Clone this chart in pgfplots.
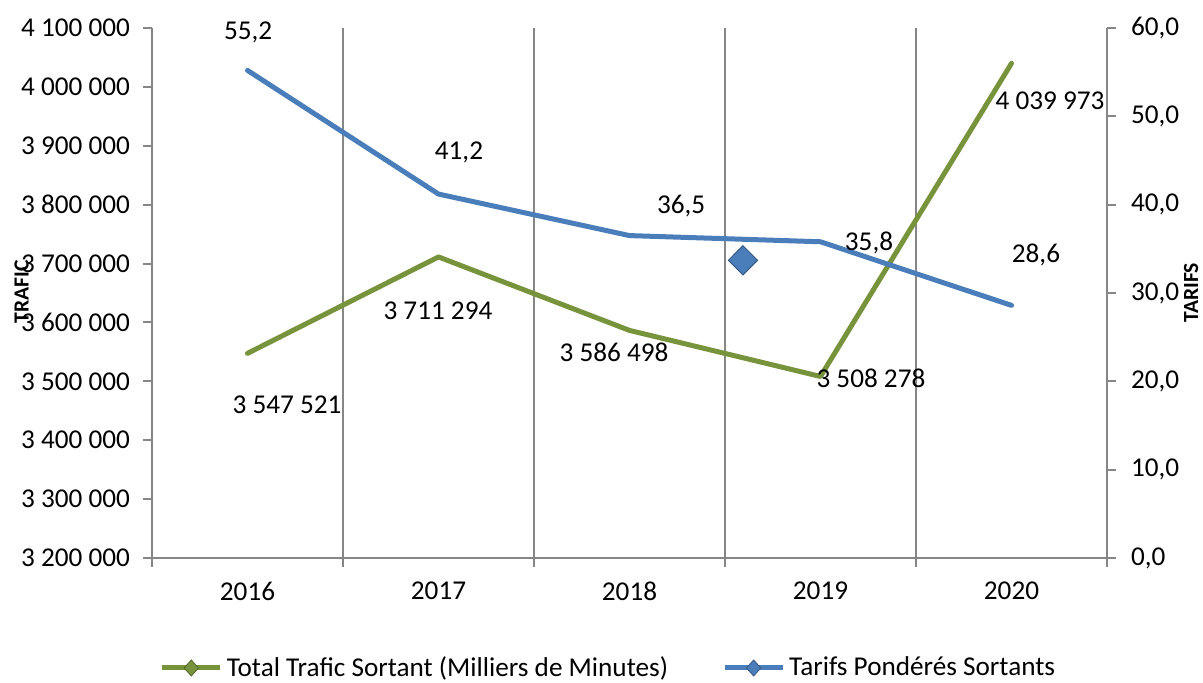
\documentclass[border=0pt]{standalone}
\usepackage{fontspec}
\setmainfont{Carlito}
\usepackage{pgfplots}
\pgfplotsset{compat=1.18}
\definecolor{trafic}{HTML}{77933C}
\definecolor{tarif}{HTML}{4A7EBB}
\definecolor{axisgray}{HTML}{868686}
\tikzset{lbl/.style={font=\fontsize{13.6}{16}\selectfont, inner sep=0pt}}

\begin{document}
\begin{tikzpicture}
\path[use as bounding box] (0,0) rectangle (601.5pt,341pt);
\pgfplotsset{
  common/.style={
    scale only axis, width=477.5pt, height=265pt,
    at={(76pt,62pt)}, anchor=south west,
    xmin=-0.5, xmax=4.5, clip=false,
    tick align=outside,
    major tick length=4.5pt,
    minor tick length=4.5pt,
    axis line style={axisgray, line width=1pt},
    every tick/.style={axisgray, line width=1pt},
    tick label style={font=\fontsize{13.6}{16}\selectfont, black},
    every axis y label/.style={rotate=90, anchor=center,
      font=\fontsize{10.8}{12}\selectfont\bfseries},
  }
}
\begin{axis}[common,
  axis x line*=bottom, axis y line*=left,
  ymin=3200000, ymax=4100000, ytick distance=100000,
  scaled y ticks=false,
  yticklabel style={xshift=-3pt, /pgf/number format/.cd, fixed, 1000 sep={\ }, assume math mode=true},
  xtick={0,...,4}, xticklabels={2016,2017,2018,2019,2020},
  xticklabel style={yshift=-4pt},
  minor xtick={-0.5,0.5,1.5,2.5,3.5,4.5},
  major x tick style={draw=none},
  xminorgrids=true,
  minor grid style={axisgray, line width=1pt},
  ylabel={TRAFIC},
  ylabel style={at={(axis description cs:-0.1365,0.502)}},
  legend style={at={(axis description cs:0.479,-0.2075)}, anchor=center,
    draw=none, fill=none, legend columns=2,
    font=\fontsize{13.6}{16}\selectfont,
    /tikz/every even column/.append style={column sep=25pt}},
  legend image code/.code={\draw[#1, mark repeat=2, mark phase=2]
    plot coordinates {(0pt,0pt) (14.5pt,0pt) (29pt,0pt)};},
]
\addlegendimage{trafic, line width=2.5pt, mark=diamond*, mark size=4pt,
  mark options={solid, xscale=1.2, fill=trafic, draw=trafic!70!black, line width=0.4pt}}
\addlegendimage{tarif, line width=2.5pt, mark=diamond*, mark size=4pt,
  mark options={solid, xscale=1.2, fill=tarif, draw=tarif!70!black, line width=0.4pt}}
\addplot[trafic, line width=2.5pt, line cap=round, line join=round, mark=none, forget plot]
  coordinates {(0,3547521) (1,3711294) (2,3586498) (3,3508278) (4,4039973)};
\node[lbl] at (axis cs:0.207,3459811) {3 547 521};
\node[lbl] at (axis cs:0.997,3619434) {3 711 294};
\node[lbl] at (axis cs:1.919,3549811) {3 586 498};
\node[lbl] at (axis cs:3.264,3505660) {3 508 278};
\node[lbl] at (axis cs:4.202,3976038) {4 039 973};
\legend{Total Trafic Sortant (Milliers de Minutes), Tarifs Pondérés Sortants}
\end{axis}

\begin{axis}[common,
  axis y line*=right, axis x line=none,
  ymin=0, ymax=60, ytick distance=10,
  yticklabel style={xshift=4pt, /pgf/number format/.cd, fixed, fixed zerofill, precision=1, use comma, assume math mode=true},
  ylabel={TARIFS},
  ylabel style={at={(axis description cs:1.088,0.5)}},
]
\addplot[tarif, line width=2.5pt, line cap=round, line join=round, mark=none]
  coordinates {(0,55.2) (1,41.2) (2,36.5) (3,35.8) (4,28.6)};
\addplot[only marks, mark=diamond*, mark size=7.3pt,
  mark options={xscale=1.33, fill=tarif, draw=tarif!70!black, line width=0.5pt}]
  coordinates {(2.594,33.7)};
\node[lbl] at (axis cs:0.003,59.55) {55,2};
\node[lbl] at (axis cs:1.107,45.96) {41,2};
\node[lbl] at (axis cs:2.27,39.85) {36,5};
\node[lbl] at (axis cs:3.254,35.66) {35,8};
\node[lbl] at (axis cs:4.128,34.30) {28,6};
\end{axis}
\end{tikzpicture}
\end{document}
